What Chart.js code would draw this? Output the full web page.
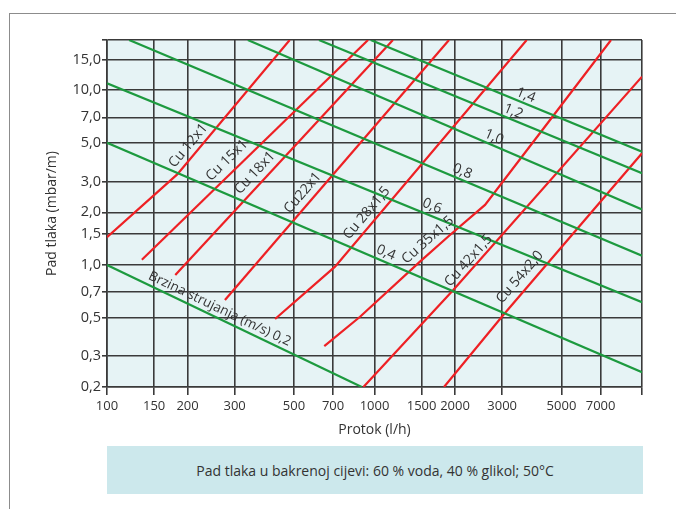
<!DOCTYPE html>
<html>
<head>
<meta charset="utf-8">
<script src="https://cdn.jsdelivr.net/npm/chart.js@4.4.1/dist/chart.umd.min.js"></script>
<style>
  body { margin: 0; background: #fff; }
  #wrap { position: relative; width: 676px; height: 509px; overflow: hidden; }
  #frame { position: absolute; left: 9px; top: 13px; width: 720px; height: 560px; border: 1.5px solid #8c8c8c; box-sizing: border-box; }
  #chart { position: absolute; left: 0; top: 0; }
  #caption { position: absolute; left: 107px; top: 446px; width: 536px; height: 48px; background: #cce8ec;
    font: 14px 'Open Sans', sans-serif; color: #333; display: flex; align-items: center; justify-content: center; }
</style>
</head>
<body>
<div id="wrap">
  <div id="frame"></div>
  <canvas id="chart" width="676" height="509"></canvas>
  <div id="caption"></div>
</div>
<script>
// axes
const flowTicks = [100, 150, 200, 300, 500, 700, 1000, 1500, 2000, 3000, 5000, 7000];
const dropTicks = [0.2, 0.3, 0.5, 0.7, 1, 1.5, 2, 3, 5, 7, 10, 15];
const flowMin = 100, flowMax = 10000;
const dropMin = 0.2, dropMax = 19.4;
const captionText = "Pad tlaka u bakrenoj cijevi: 60 % voda, 40 % glikol; 50°C";

// copper pipes: [flow l/h, pressure drop mbar/m]
const cu12 = [[100, 1.44], [183, 3.3], [482, 19.4]];
const cu15 = [[135, 1.07], [946, 19.4]];
const cu18 = [[180, 0.875], [1172, 19.4]];
const cu22 = [[276, 0.63], [1899, 19.4]];
const cu28 = [[425, 0.49], [712, 0.977], [3707, 19.4]];
const cu35 = [[649, 0.343], [883, 0.505], [1479, 1.044], [1915, 1.484], [2589, 2.205], [4530, 6.76], [7659, 19.4]];
const cu42 = [[909, 0.2], [1970, 0.719], [10000, 11.97]];
const cu54 = [[1819, 0.2], [3030, 0.517], [10000, 4.36]];

// flow velocity lines (m/s)
const v02 = [[100, 1.0], [896, 0.2]];
const v04 = [[100, 5.0], [10000, 0.243]];
const v06 = [[100, 10.97], [10000, 0.611]];
const v08 = [[121, 19.4], [10000, 1.13]];
const v10 = [[336, 19.4], [10000, 2.08]];
const v12 = [[620, 19.4], [10000, 3.35]];
const v14 = [[968, 19.4], [10000, 4.45]];

const pipes = [cu12, cu15, cu18, cu22, cu28, cu35, cu42, cu54];
const speeds = [v02, v04, v06, v08, v10, v12, v14];

// text along the lines: which line, flow where it sits, gap above the line
const tags = [
  { text: "Cu 12x1", line: cu12, at: 215, gap: 10, size: 14 },
  { text: "Cu 15x1", line: cu15, at: 302, gap: 12, size: 14 },
  { text: "Cu 18x1", line: cu18, at: 383, gap: 11, size: 14 },
  { text: "Cu22x1", line: cu22, at: 579, gap: 11, size: 14 },
  { text: "Cu 28x1,5", line: cu28, at: 1002, gap: 10.5, size: 14 },
  { text: "Cu 35x1,5", line: cu35, at: 1686, gap: 11, size: 14 },
  { text: "Cu 42x1,5", line: cu42, at: 2366, gap: 8, size: 14 },
  { text: "Cu 54x2,0", line: cu54, at: 3782, gap: 12, size: 14 },
  { text: "1,4", line: v14, at: 3585, gap: 8, size: 14 },
  { text: "1,2", line: v12, at: 3216, gap: 8, size: 14 },
  { text: "1,0", line: v10, at: 2722, gap: 8, size: 14 },
  { text: "0,8", line: v08, at: 2073, gap: 8, size: 14 },
  { text: "0,6", line: v06, at: 1591, gap: 9.5, size: 14 },
  { text: "0,4", line: v04, at: 1071, gap: 9, size: 14 },
  { text: "Brzina strujanja (m/s) 0,2", line: v02, at: 255, gap: 9, size: 13.5 }
];

document.getElementById("caption").textContent = captionText;

const RED = "#ee2024";
const GREEN = "#1d9a3f";
const GRID = "#3a3a3a";
const TEXT = "#333";

Chart.defaults.font.family = "'Open Sans', sans-serif";
Chart.defaults.color = TEXT;

// light blue plot area
const plotBg = {
  id: "plotBg",
  beforeDraw(chart) {
    const { ctx, chartArea: a } = chart;
    ctx.save();
    ctx.fillStyle = "#e6f3f5";
    ctx.fillRect(a.left, a.top, a.right - a.left, a.bottom - a.top);
    ctx.restore();
  }
};

// rotated labels sitting on the lines
const lineLabels = {
  id: "lineLabels",
  afterDatasetsDraw(chart) {
    const { ctx, scales: { x, y } } = chart;
    ctx.save();
    ctx.fillStyle = TEXT;
    ctx.textAlign = "center";
    ctx.textBaseline = "middle";
    tags.forEach(t => {
      const pts = t.line.map(p => [x.getPixelForValue(p[0]), y.getPixelForValue(p[1])]);
      const px = x.getPixelForValue(t.at);
      let i = 0;
      while (i < pts.length - 2 && pts[i + 1][0] < px) i++;
      const [x0, y0] = pts[i];
      const [x1, y1] = pts[i + 1];
      const py = y0 + (px - x0) / (x1 - x0) * (y1 - y0);
      const ang = Math.atan2(y1 - y0, x1 - x0);
      ctx.save();
      ctx.translate(px + Math.sin(ang) * t.gap, py - Math.cos(ang) * t.gap);
      ctx.rotate(ang);
      ctx.font = t.size + "px 'Open Sans', sans-serif";
      ctx.fillText(t.text, 0, 0);
      ctx.restore();
    });
    ctx.restore();
  }
};

const datasets = [
  ...speeds.map(d => ({ data: d, borderColor: GREEN })),
  ...pipes.map(d => ({ data: d, borderColor: RED }))
].map(d => ({ ...d, showLine: true, borderWidth: 2.2, pointRadius: 0, tension: 0 }));

new Chart(document.getElementById("chart"), {
  type: "scatter",
  data: { datasets: datasets },
  options: {
    responsive: false,
    animation: false,
    layout: { padding: { left: 40, top: 40, right: 34, bottom: 67 } },
    plugins: { legend: { display: false }, tooltip: { enabled: false } },
    scales: {
      x: {
        type: "logarithmic",
        min: flowMin,
        max: flowMax,
        afterFit: s => { s.height = 55; },
        afterBuildTicks: s => { s.ticks = [...flowTicks, flowMax].map(v => ({ value: v })); },
        ticks: {
          autoSkip: false, maxRotation: 0, minRotation: 0, padding: 3, color: TEXT,
          font: { size: 13 },
          callback: v => flowTicks.includes(v) ? String(v) : ""
        },
        grid: { color: GRID, lineWidth: 1.6, tickLength: 8 },
        border: { color: GRID, width: 1.6 },
        title: { display: true, text: "Protok (l/h)", color: TEXT, font: { size: 14 }, padding: { top: 4, bottom: 4 } }
      },
      y: {
        type: "logarithmic",
        min: dropMin,
        max: dropMax,
        afterFit: s => { s.width = 67; },
        afterBuildTicks: s => { s.ticks = [...dropTicks, dropMax].map(v => ({ value: v })); },
        ticks: {
          autoSkip: false, padding: 1, color: TEXT,
          font: { size: 14.5 },
          callback: v => dropTicks.includes(v) ? v.toFixed(1).replace(".", ",") : ""
        },
        grid: { color: GRID, lineWidth: 1.6, tickLength: 5 },
        border: { color: GRID, width: 1.6 },
        title: { display: true, text: "Pad tlaka (mbar/m)", color: TEXT, font: { size: 14 }, padding: { top: 4, bottom: 4 } }
      }
    }
  },
  plugins: [plotBg, lineLabels]
});
</script>
</body>
</html>
